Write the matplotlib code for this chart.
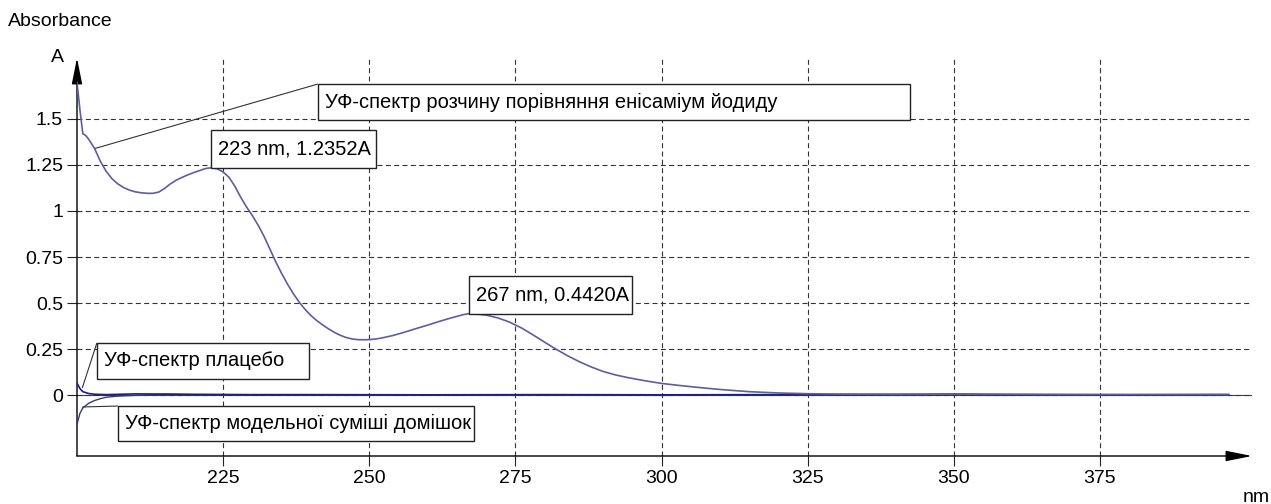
import matplotlib
matplotlib.use("Agg")
import matplotlib.pyplot as plt
from matplotlib.patches import Rectangle

plt.rcParams['font.family'] = ['Liberation Sans', 'DejaVu Sans']

# reference solution (enisamium iodide), absorbance vs wavelength
wl_ref = [200.0, 200.5, 201.0, 201.5, 202.0, 203.0, 204.0, 205.0, 206.0, 207.0,
          208.0, 209.0, 210.0, 211.0, 212.0, 213.0, 214.0, 215.0, 216.0, 217.0,
          218.0, 219.0, 220.0, 221.0, 222.0, 223.0, 224.0, 225.0, 226.0, 227.0,
          228.0, 229.0, 230.0, 231.0, 232.0, 233.0, 234.0, 235.0, 236.0, 237.0,
          238.0, 239.0, 240.0, 241.0, 242.0, 243.0, 244.0, 245.0, 246.0, 247.0,
          248.0, 249.0, 250.0, 251.0, 252.0, 254.0, 256.0, 258.0, 260.0, 262.0,
          264.0, 266.0, 267.0, 268.0, 270.0, 272.0, 274.0, 276.0, 278.0, 280.0,
          282.0, 284.0, 286.0, 288.0, 290.0, 292.0, 294.0, 296.0, 298.0, 300.0,
          303.0, 306.0, 310.0, 315.0, 320.0, 325.0, 330.0, 340.0, 350.0, 360.0,
          370.0, 380.0, 390.0, 397.0]
abs_ref = [1.70, 1.55, 1.42, 1.41, 1.39, 1.34, 1.27, 1.215, 1.175, 1.147,
           1.127, 1.113, 1.104, 1.099, 1.096, 1.096, 1.103, 1.123, 1.148, 1.168,
           1.183, 1.197, 1.209, 1.22, 1.231, 1.2352, 1.229, 1.212, 1.183, 1.135,
           1.075, 1.022, 0.975, 0.922, 0.862, 0.793, 0.724, 0.661, 0.603, 0.551,
           0.505, 0.466, 0.432, 0.405, 0.381, 0.36, 0.341, 0.325, 0.313, 0.305,
           0.301, 0.30, 0.301, 0.304, 0.309, 0.323, 0.341, 0.361, 0.38, 0.40,
           0.419, 0.436, 0.442, 0.441, 0.434, 0.419, 0.396, 0.365, 0.327, 0.287,
           0.248, 0.212, 0.18, 0.152, 0.128, 0.11, 0.096, 0.084, 0.073, 0.063,
           0.052, 0.042, 0.03, 0.018, 0.011, 0.007, 0.005, 0.004, 0.005, 0.004,
           0.003, 0.003, 0.003, 0.003]

# placebo
wl_plac = [200.0, 200.5, 201.0, 202.0, 203.0, 205.0, 210.0, 215.0, 220.0, 230.0,
           240.0, 260.0, 280.0, 300.0, 320.0, 340.0, 350.0, 360.0, 380.0, 397.0]
abs_plac = [0.065, 0.035, 0.018, 0.008, 0.004, 0.002, 0.006, 0.005, 0.003, 0.002,
            0.002, 0.001, 0.002, 0.001, 0.002, 0.003, 0.004, 0.002, 0.001, 0.002]

# model mixture of impurities
wl_imp = [200.0, 200.5, 201.0, 202.0, 203.0, 204.0, 205.0, 207.0, 210.0, 215.0,
          220.0, 240.0, 260.0, 280.0, 300.0, 320.0, 340.0, 350.0, 360.0, 380.0, 397.0]
abs_imp = [-0.16, -0.10, -0.07, -0.045, -0.03, -0.02, -0.012, -0.006, -0.002, 0.004,
           0.003, 0.0, -0.001, 0.0, -0.002, 0.001, 0.0, 0.003, 0.001, 0.0, 0.001]

peaks_nm = [223, 267]
peaks_abs = [1.2352, 0.4420]

x_ticks = [225, 250, 275, 300, 325, 350, 375]
y_ticks = [0, 0.25, 0.5, 0.75, 1, 1.25, 1.5]
y_ticklabels = ['0', '0.25', '0.5', '0.75', '1', '1.25', '1.5']

fig = plt.figure(figsize=(12.71, 5.04), dpi=100)
ax = fig.add_axes([77 / 1271, 48 / 504, 1175 / 1271, 398 / 504])
ax.set_xlim(200, 401)
ax.set_ylim(-0.3315, 1.8315)

for s in ax.spines.values():
    s.set_visible(False)

ax.set_xticks(x_ticks)
ax.set_yticks(y_ticks)
ax.set_yticklabels(y_ticklabels)
ax.tick_params(axis='both', direction='out', length=7, width=0.8,
               labelsize=14, color='#222222', pad=3)
ax.grid(True, linestyle=(0, (4.5, 3)), linewidth=0.8, color='#333333')
ax.axhline(0, color='#444444', lw=0.8, zorder=1)

# axis arrows
arrow = dict(arrowstyle='-|>,head_length=0.8,head_width=0.16', color='black',
             lw=1.0, shrinkA=0, shrinkB=0, mutation_scale=20)
ax.annotate('', xy=(1, 0), xytext=(0, 0), xycoords='axes fraction',
            arrowprops=arrow, annotation_clip=False)
ax.annotate('', xy=(0, 1), xytext=(0, 0), xycoords='axes fraction',
            arrowprops=arrow, annotation_clip=False)

ax.plot(wl_imp, abs_imp, color='#3a3a70', lw=1.0, zorder=3)
ax.plot(wl_plac, abs_plac, color='#1c1c90', lw=1.2, zorder=3)
ax.plot(wl_ref, abs_ref, color='#5d5da2', lw=1.2, zorder=4)


def callout(text, x0, x1, y0, y1, tip=None):
    ax.add_patch(Rectangle((x0, y0), x1 - x0, y1 - y0, facecolor='white',
                           edgecolor='#222222', lw=1.0, zorder=5))
    ax.text(x0 + 1.2, (y0 + y1) / 2, text, fontsize=14.5, ha='left',
            va='center', zorder=6)
    if tip is not None:
        ax.plot([x0, tip[0]], [y1, tip[1]], color='#333333', lw=0.8,
                zorder=5, solid_capstyle='butt')


callout('УФ-спектр розчину порівняння енісаміум йодиду',
        241.2, 342.5, 1.495, 1.690, tip=(203.1, 1.34))
callout('УФ-спектр плацебо', 203.4, 239.7, 0.087, 0.283, tip=(200.9, 0.038))
callout('УФ-спектр модельної суміші домішок', 207.0, 267.9, -0.250, -0.060,
        tip=(200.9, -0.065))

# peak labels sit on the peak point
for nm, a, w in zip(peaks_nm, peaks_abs, [28.1, 27.9]):
    callout(f'{nm} nm, {a:.4f}A', nm, nm + w, a, a + 0.203)

fig.text(8 / 1271, 1 - 22 / 504, 'Absorbance', fontsize=14, ha='left', va='center')
fig.text(57 / 1271, 1 - 58 / 504, 'A', fontsize=14, ha='center', va='center')
fig.text(1270 / 1271, 1 - 497 / 504, 'nm', fontsize=14, ha='right', va='center')

fig.savefig('out.png', dpi=100, facecolor='white')
